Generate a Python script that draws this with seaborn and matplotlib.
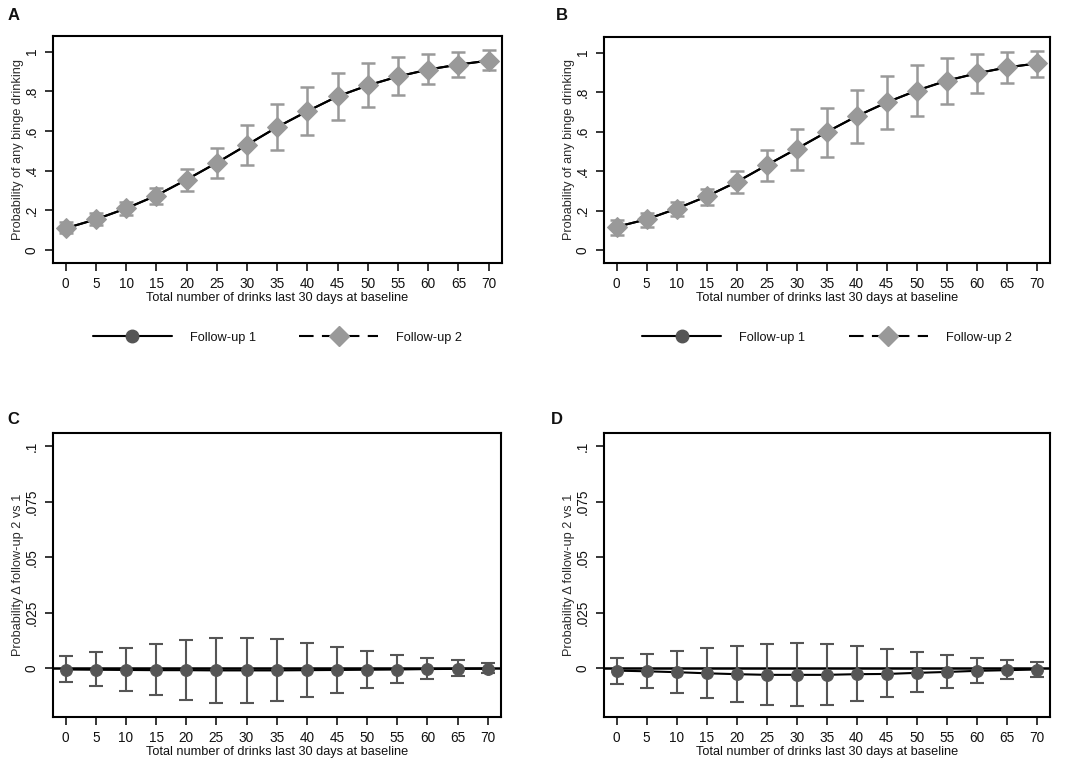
import numpy as np
import pandas as pd
import seaborn as sns
import matplotlib.pyplot as plt
from matplotlib.lines import Line2D

drinks = [0, 5, 10, 15, 20, 25, 30, 35, 40, 45, 50, 55, 60, 65, 70]

# panel A - probability of any binge drinking
a_prob = [0.11, 0.155, 0.21, 0.275, 0.355, 0.44, 0.53, 0.62, 0.70, 0.775, 0.83, 0.875, 0.91, 0.935, 0.955]
a_lo = [0.084, 0.125, 0.176, 0.234, 0.298, 0.365, 0.431, 0.505, 0.58, 0.656, 0.722, 0.783, 0.836, 0.873, 0.906]
a_hi = [0.142, 0.187, 0.242, 0.314, 0.41, 0.515, 0.63, 0.736, 0.824, 0.891, 0.941, 0.973, 0.99, 1.0, 1.007]

# panel B
b_prob = [0.118, 0.156, 0.21, 0.272, 0.345, 0.43, 0.513, 0.598, 0.678, 0.748, 0.808, 0.858, 0.895, 0.925, 0.945]
b_lo = [0.079, 0.118, 0.171, 0.23, 0.289, 0.348, 0.408, 0.474, 0.541, 0.612, 0.679, 0.739, 0.797, 0.844, 0.877]
b_hi = [0.151, 0.19, 0.244, 0.311, 0.40, 0.508, 0.613, 0.719, 0.81, 0.882, 0.938, 0.971, 0.992, 1.005, 1.01]

# panel C - difference follow-up 2 vs 1
c_diff = [-0.0006, -0.0007, -0.0008, -0.0009, -0.0009, -0.001, -0.001, -0.001, -0.0009, -0.0008, -0.0007, -0.0006, -0.0004, -0.0003, -0.0002]
c_lo = [-0.0063, -0.008, -0.0102, -0.0123, -0.0143, -0.0155, -0.0158, -0.0149, -0.0131, -0.0111, -0.0089, -0.0069, -0.005, -0.0036, -0.0023]
c_hi = [0.0056, 0.0072, 0.009, 0.0108, 0.0125, 0.0135, 0.0135, 0.013, 0.0114, 0.0096, 0.0078, 0.006, 0.0047, 0.0035, 0.0023]

# panel D
d_diff = [-0.0011, -0.0014, -0.0018, -0.0023, -0.0027, -0.003, -0.003, -0.003, -0.0027, -0.0026, -0.0021, -0.0017, -0.0012, -0.0009, -0.0006]
d_lo = [-0.0071, -0.0091, -0.0114, -0.0135, -0.0152, -0.0167, -0.017, -0.0166, -0.015, -0.0131, -0.0108, -0.0088, -0.0068, -0.005, -0.004]
d_hi = [0.0047, 0.0062, 0.0078, 0.0091, 0.0102, 0.0111, 0.0114, 0.0109, 0.0099, 0.0088, 0.0074, 0.0061, 0.0047, 0.0036, 0.0027]

prob_ticks = [0, 0.2, 0.4, 0.6, 0.8, 1.0]
prob_ticklabels = ["0", ".2", ".4", ".6", ".8", "1"]
diff_ticks = [0, 0.025, 0.05, 0.075, 0.1]
diff_ticklabels = ["0", ".025", ".05", ".075", ".1"]

DARK = "#555555"
LIGHT = "#999999"
FS = 9.2

sns.set_style("white")
plt.rcParams["font.family"] = ["Liberation Sans", "DejaVu Sans"]
plt.rcParams["text.color"] = "#111111"

fig = plt.figure(figsize=(10.84, 7.65), dpi=100)
W, H = 1084, 765


def make_ax(l, t, r, b):
    return fig.add_axes([l / W, 1 - b / H, (r - l) / W, (b - t) / H])


def style(ax, ticks, labels, ylim, ylabel):
    ax.set_xlim(-2.1, 72.2)
    ax.set_ylim(*ylim)
    ax.set_xticks(drinks)
    ax.set_xticklabels([str(d) for d in drinks], fontsize=FS + 0.6)
    ax.set_yticks(ticks)
    ax.set_yticklabels(labels, fontsize=FS + 0.6, rotation=90, va="center")
    ax.tick_params(bottom=True, left=True, direction="out", length=5.6, width=1.1,
                   color="black", labelcolor="#111111", pad=4.5)
    for s in ax.spines.values():
        s.set_color("black")
        s.set_linewidth(1.5)
    ax.set_xlabel("Total number of drinks last 30 days at baseline", fontsize=FS,
                  labelpad=1, color="#111111")
    ax.set_ylabel(ylabel, fontsize=FS, color="#2b2b2b", labelpad=1)


def prob_panel(ax, prob, lo, hi):
    df = pd.DataFrame({"x": drinks, "y": prob})
    # follow-up 1 (hidden underneath)
    sns.lineplot(data=df, x="x", y="y", ax=ax, color="black", lw=1.5, marker="o",
                 markersize=9, markerfacecolor=DARK, markeredgecolor=DARK, zorder=2)
    yerr = [np.array(prob) - np.array(lo), np.array(hi) - np.array(prob)]
    ax.errorbar(drinks, prob, yerr=yerr, fmt="none", ecolor=LIGHT, elinewidth=1.8,
                capsize=5, capthick=1.8, zorder=3)
    sns.lineplot(data=df, x="x", y="y", ax=ax, color="black", lw=1.5, marker="D",
                 markersize=10.5, markerfacecolor=LIGHT, markeredgecolor=LIGHT, zorder=4)
    style(ax, prob_ticks, prob_ticklabels, (-0.065, 1.079), "Probability of any binge drinking")
    handles = [
        Line2D([], [], color="black", lw=1.5, marker="o", markersize=9,
               markerfacecolor=DARK, markeredgecolor=DARK),
        Line2D([], [], color="black", lw=1.5, ls=(0, (7, 4)), marker="D", markersize=10,
               markerfacecolor=LIGHT, markeredgecolor=LIGHT),
    ]
    ax.legend(handles, ["Follow-up 1", "Follow-up 2"], loc="center",
              bbox_to_anchor=(0.5, -0.33), ncol=2, frameon=False, fontsize=FS,
              handlelength=6.2, columnspacing=3.4, handletextpad=1.4)


def diff_panel(ax, diff, lo, hi):
    df = pd.DataFrame({"x": drinks, "y": diff})
    ax.axhline(0, color="black", lw=1.8, zorder=1)
    yerr = [np.array(diff) - np.array(lo), np.array(hi) - np.array(diff)]
    ax.errorbar(drinks, diff, yerr=yerr, fmt="none", ecolor=DARK, elinewidth=1.5,
                capsize=5, capthick=1.5, zorder=2)
    sns.lineplot(data=df, x="x", y="y", ax=ax, color="black", lw=1.5, marker="o",
                 markersize=8.5, markerfacecolor=DARK, markeredgecolor=DARK, zorder=3)
    style(ax, diff_ticks, diff_ticklabels, (-0.022, 0.106), "Probability \u0394 follow-up 2 vs 1")


axA = make_ax(53, 36, 502, 263)
axB = make_ax(604, 37, 1050, 263)
axC = make_ax(53, 433, 501, 717)
axD = make_ax(604, 433, 1050, 717)

prob_panel(axA, a_prob, a_lo, a_hi)
prob_panel(axB, b_prob, b_lo, b_hi)
diff_panel(axC, c_diff, c_lo, c_hi)
diff_panel(axD, d_diff, d_lo, d_hi)

for lab, x, y in [("A", 8, 16), ("B", 556, 16), ("C", 7, 419), ("D", 551, 419)]:
    fig.text(x / W, 1 - y / H, lab, fontsize=12, fontweight="bold", va="center", ha="left")

fig.savefig("out.png", dpi=100, facecolor="white")
